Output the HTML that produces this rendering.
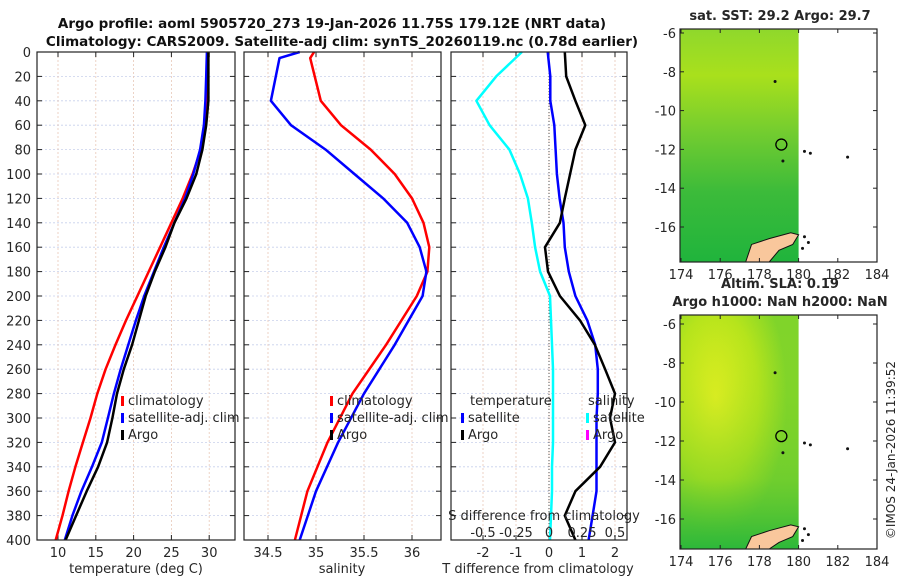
<!DOCTYPE html>
<html><head><meta charset="utf-8"><style>
body{margin:0;background:#fff;width:900px;height:580px;overflow:hidden;font-family:"DejaVu Sans","Liberation Sans",sans-serif;}
svg text{font-family:"DejaVu Sans","Liberation Sans",sans-serif;}
</style></head><body>
<svg id="c" width="900" height="580" xmlns="http://www.w3.org/2000/svg">
<defs>
<linearGradient id="g1" x1="0" y1="0" x2="0" y2="1"><stop offset="0" stop-color="#8fd82c"/><stop offset="0.2" stop-color="#a9e01c"/><stop offset="0.45" stop-color="#72cc30"/><stop offset="0.7" stop-color="#3cbb3a"/><stop offset="1" stop-color="#20b43c"/></linearGradient>
<radialGradient id="g2a" cx="0.3" cy="0.35" r="0.6"><stop offset="0" stop-color="#e6f020"/><stop offset="0.6" stop-color="#b6e41c"/><stop offset="1" stop-color="#7fd42a"/></radialGradient>
<linearGradient id="g2b" x1="0" y1="0" x2="0" y2="1"><stop offset="0" stop-color="#b8e41c" stop-opacity="0"/><stop offset="0.7" stop-color="#4cc036" stop-opacity="0.3"/><stop offset="1" stop-color="#2cb83a" stop-opacity="1"/></linearGradient>
</defs>
</svg>
<script>
// ===== data =====
const depthsT=[0,20,40,60,80,100,120,140,160,180,200,220,240,260,280,300,320,340,360,380,400];
const argoT=[29.9,29.9,29.9,29.6,29.1,28.3,27.0,25.4,24.2,22.8,21.6,20.7,19.8,18.7,17.8,17.2,16.5,15.3,13.8,12.4,11.0];
const climT=[29.8,29.7,29.6,29.4,28.9,27.8,26.5,25.0,23.5,22.0,20.5,19.0,17.6,16.3,15.2,14.3,13.3,12.3,11.4,10.6,9.7];
const satT=[29.7,29.6,29.5,29.3,28.8,27.9,26.8,25.4,24.0,22.7,21.4,20.3,19.3,18.3,17.4,16.6,15.8,14.5,13.1,11.9,10.9];
const depthsS=[0,5,40,60,80,100,120,140,160,180,200,240,280,320,360,400];
const climS=[34.98,34.94,35.05,35.26,35.57,35.82,36.00,36.12,36.18,36.16,36.05,35.73,35.38,35.12,34.91,34.78];
const satS=[34.83,34.62,34.53,34.74,35.10,35.40,35.70,35.95,36.08,36.15,36.11,35.82,35.50,35.23,35.00,34.83];
const depthsD=[0,20,40,60,80,100,120,140,160,180,200,220,240,260,280,300,320,340,360,380,400];
const satTdiff=[-0.82,-1.6,-2.2,-1.8,-1.2,-0.88,-0.64,-0.52,-0.42,-0.27,0.03,0.06,0.09,0.12,0.12,0.12,0.12,0.09,0.09,0.06,0.03];
const satSdiff=[-0.01,0.01,0.01,0.04,0.05,0.06,0.08,0.11,0.12,0.15,0.2,0.29,0.35,0.37,0.37,0.36,0.36,0.36,0.36,0.33,0.3];
const argoTdiff=[0.48,0.52,0.8,1.1,0.8,0.64,0.48,0.33,-0.12,-0.03,0.33,0.94,1.39,1.7,2.0,1.85,2.0,1.55,0.8,0.48,0.8];
const depthTicks=[0,20,40,60,80,100,120,140,160,180,200,220,240,260,280,300,320,340,360,380,400];
const tTicks=[10,15,20,25,30];
const sTicks=[34.5,35,35.5,36];
const dTicks=[-2,-1,0,1,2];
const sdTicks=["-0.5","-0.25","0","0.25","0.5"];
const lonTicks=[174,176,178,180,182,184];
const latTicks=[-6,-8,-10,-12,-14,-16];

const svg=document.getElementById('c');
const NS='http://www.w3.org/2000/svg';
function mk(tag,attrs,parent){const e=document.createElementNS(NS,tag);for(const k in attrs)e.setAttribute(k,attrs[k]);(parent||svg).appendChild(e);return e;}
function txt(s,x,y,attrs){const t=mk('text',Object.assign({x:x,y:y,'font-size':13,fill:'#262626'},attrs||{}));t.textContent=s;return t;}

const Y0=52,Y1=540;
const yD=d=>Y0+(Y1-Y0)*d/400;
const P1={x0:37,x1:235},P2={x0:244,x1:441},P3={x0:451,x1:627};
const xT=v=>58+7.56*(v-10);
const xS=v=>268+96*(v-34.5);
const xD=v=>549+33*v;
const xSD=v=>549+132*v;

function panel(P,name){
  const g=mk('g',{});
  
  
  mk('rect',{x:P.x0,y:Y0,width:P.x1-P.x0,height:Y1-Y0,fill:'#fff'},g);
  depthTicks.forEach(d=>{const l=mk('line',{x1:P.x0,x2:P.x1,y1:yD(d),y2:yD(d),stroke:'#c8d0ec','stroke-width':0.8,'stroke-dasharray':'2,2'},g);
    
    mk('line',{x1:P.x0,x2:P.x0+5,y1:yD(d),y2:yD(d),stroke:'#222'},g);mk('line',{x1:P.x1-5,x2:P.x1,y1:yD(d),y2:yD(d),stroke:'#222'},g);});
  return g;
}
function vgrid(g,xs){xs.forEach(x=>{const l=mk('line',{x1:x,x2:x,y1:Y0,y2:Y1,stroke:'#e8c8b8','stroke-width':0.8,'stroke-dasharray':'2,2'},g);
  
  mk('line',{x1:x,x2:x,y1:Y1,y2:Y1-5,stroke:'#222'},g);mk('line',{x1:x,x2:x,y1:Y0,y2:Y0+5,stroke:'#222'},g);});}
function line(depths,vals,xf,color,name,w){
  const d=vals.map((v,i)=>(i?'L':'M')+xf(v).toFixed(1)+','+yD(depths[i]).toFixed(1)).join('');
  const p=mk('path',{d:d,fill:'none',stroke:color,'stroke-width':w||2.5,'stroke-linejoin':'round'});
  return p;}
function frame(P){mk('rect',{x:P.x0,y:Y0,width:P.x1-P.x0,height:Y1-Y0,fill:'none',stroke:'#222','stroke-width':1.2});}
function legend(x,y,items,name){
  const g=mk('g',{});
  items.forEach((it,i)=>{const yy=y+i*17;
    if(it[1])mk('rect',{x:x,y:yy-9,width:3,height:10,fill:it[1]},g);
    const t=mk('text',{x:x+(it[1]?7:0),y:yy,'font-size':13,fill:'#262626'},g);t.textContent=it[0];
    });
}

// titles
const t1=txt('Argo profile: aoml 5905720_273 19-Jan-2026 11.75S 179.12E (NRT data)',332,28,{'font-weight':'bold','text-anchor':'middle','font-size':13.5,fill:'#111'});

const t2=txt('Climatology: CARS2009. Satellite-adj clim: synTS_20260119.nc (0.78d earlier)',342,46,{'font-weight':'bold','text-anchor':'middle','font-size':13.5,fill:'#111'});


// panel 1
const g1=panel(P1,'temperature-panel');vgrid(g1,tTicks.map(xT));
depthTicks.forEach(d=>{const t=txt(String(d),31,yD(d)+5,{'text-anchor':'end'});});
tTicks.forEach(v=>{const t=txt(String(v),xT(v),557,{'text-anchor':'middle'});});
txt('temperature (deg C)',136,573,{'text-anchor':'middle'});
line(depthsT,climT,xT,'#ff0000','climatology-temperature-line');
line(depthsT,satT,xT,'#0000ff','satellite-temperature-line');
line(depthsT,argoT,xT,'#000','argo-temperature-line');
frame(P1);
legend(121,405,[['climatology','#ff0000'],['satellite-adj. clim','#0000ff'],['Argo','#000']],'temperature-legend');

// panel 2
const g2=panel(P2,'salinity-panel');vgrid(g2,sTicks.map(xS));
sTicks.forEach(v=>{const t=txt(String(v),xS(v),557,{'text-anchor':'middle'});});
txt('salinity',342,573,{'text-anchor':'middle'});
line(depthsS,climS,xS,'#ff0000','climatology-salinity-line');
line(depthsS,satS,xS,'#0000ff','satellite-salinity-line');
frame(P2);
legend(330,405,[['climatology','#ff0000'],['satellite-adj. clim','#0000ff'],['Argo','#000']],'salinity-legend');

// panel 3
const g3=panel(P3,'difference-panel');vgrid(g3,dTicks.map(xD));
const z=mk('line',{x1:549,x2:549,y1:Y0,y2:Y1,stroke:'#555','stroke-width':1,'stroke-dasharray':'1,2'});
dTicks.forEach(v=>{const t=txt(String(v),xD(v),557,{'text-anchor':'middle'});});
txt('T difference from climatology',538,573,{'text-anchor':'middle'});
line(depthsD,satTdiff,xD,'#00ffff','satellite-temperature-diff-line');
line(depthsD,satSdiff,xSD,'#0000ff','satellite-salinity-diff-line');
line(depthsD,argoTdiff,xD,'#000','argo-temperature-diff-line');
frame(P3);
legend(470,405,[['temperature',null]],'diff-legend-temperature-header');
legend(461,422,[['satellite','#0000ff'],['Argo','#000']],'diff-legend-temperature');
legend(588,405,[['salinity',null]],'diff-legend-salinity-header');
legend(586,422,[['satellite','#00ffff'],['Argo','#ff00ff']],'diff-legend-salinity');
txt('S difference from climatology',544,520,{'text-anchor':'middle'});
const sdx=[-0.5,-0.25,0,0.25,0.5];
sdTicks.forEach((s,i)=>{const t=txt(s,xSD(sdx[i]),537,{'text-anchor':'middle'});});

// maps
function map(y0,y1,latAt6,latAt16,title,fillId,name,overlay){
  const g=mk('g',{});
  const X0=680,X1=877;const xL=l=>681+19.6*(l-174);const yL=l=>latAt6+(latAt16-latAt6)*(-6-l)/10;
  mk('rect',{x:X0,y:y0,width:xL(180)-X0,height:y1-y0,fill:'url(#'+fillId+')'},g);
  if(overlay)mk('rect',{x:X0,y:y0,width:xL(180)-X0,height:y1-y0,fill:'url(#'+overlay+')'},g);
  // land
  mk('path',{d:`M${xL(177.3)},${y1} L${xL(177.6)},${yL(-16.9)} L${xL(178.5)},${yL(-16.6)} L${xL(179.6)},${yL(-16.3)} L${xL(180)},${yL(-16.4)} L${xL(179.7)},${yL(-16.9)} L${xL(179)},${yL(-17.2)} L${xL(178.5)},${y1} Z`,fill:'#f9c79c',stroke:'#111','stroke-width':1},g);
  [[180.3,-16.5],[180.5,-16.8],[180.2,-17.1],[182.5,-12.4],[180.3,-12.1],[180.6,-12.2],[179.2,-12.6],[178.8,-8.5]].forEach(p=>mk('circle',{cx:xL(p[0]),cy:yL(p[1]),r:1.5,fill:'#111'},g));
  const c=mk('circle',{cx:xL(179.12),cy:yL(-11.75),r:5.5,fill:'none',stroke:'#000','stroke-width':1.3},g);
  
  mk('rect',{x:X0,y:y0,width:X1-X0,height:y1-y0,fill:'none',stroke:'#222','stroke-width':1.2},g);
  lonTicks.forEach(l=>{mk('line',{x1:xL(l),x2:xL(l),y1:y1,y2:y1-4,stroke:'#222'},g);mk('line',{x1:xL(l),x2:xL(l),y1:y0,y2:y0+4,stroke:'#222'},g);
    const t=txt(String(l),xL(l),y1+17,{'text-anchor':'middle'});});
  latTicks.forEach(l=>{mk('line',{x1:X0,x2:X0+4,y1:yL(l),y2:yL(l),stroke:'#222'},g);mk('line',{x1:X1,x2:X1-4,y1:yL(l),y2:yL(l),stroke:'#222'},g);
    const t=txt(String(l),676,yL(l)+5,{'text-anchor':'end'});});
  title.forEach((s,i)=>{const t=txt(s,780,y0-9-(title.length-1-i)*18,{'text-anchor':'middle','font-weight':'bold'});});
}
map(29,262,33,227,['sat. SST: 29.2 Argo: 29.7'],'g1','sst-map');
map(315,549,324,519,['Altim. SLA: 0.19','Argo h1000: NaN h2000: NaN'],'g2a','sla-map','g2b');

const cr=txt('©IMOS 24-Jan-2026 11:39:52',895,450,{transform:'rotate(-90 895 450)','text-anchor':'middle','font-size':12});

</script>
</body></html>
